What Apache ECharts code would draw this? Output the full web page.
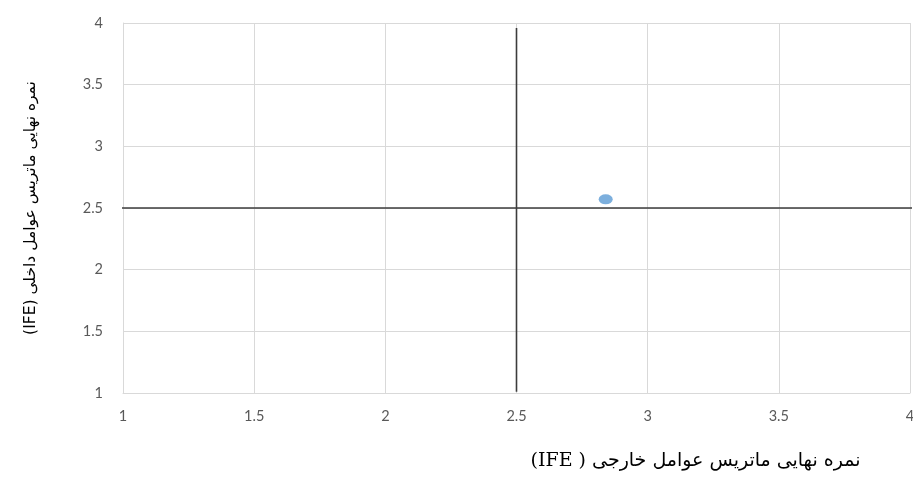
<!DOCTYPE html>
<html>
<head>
<meta charset="utf-8">
<script src="https://cdn.jsdelivr.net/npm/echarts@6/dist/echarts.min.js"></script>
<style>
html,body{margin:0;padding:0;background:#fff;}
#chart{width:913px;height:487px;}
</style>
</head>
<body>
<div id="chart" dir="rtl"></div>
<script>
const xAxisTitle = 'نمره نهایی ماتریس عوامل خارجی ( IFE)';
const yAxisTitle = 'نمره نهایی ماتریس عوامل داخلی (IFE)';
const axisMin = 1;
const axisMax = 4;
const axisStep = 0.5;
const pointData = [[2.84, 2.57]];
const vLine = [[2.5, 1.01], [2.5, 3.96]];
const hLine = [[0.98, 2.5], [4.01, 2.5]];

const chart = echarts.init(document.getElementById('chart'), null, {renderer: 'canvas'});
const gridColor = '#d9d9d9';
const labelStyle = {color: '#595959', fontSize: 14.5, fontFamily: 'Lato, "Open Sans", sans-serif'};
chart.setOption({
  animation: false,
  backgroundColor: '#fff',
  grid: {left: 123, right: 3, top: 23, bottom: 94, containLabel: false, outerBoundsMode: 'none'},
  xAxis: {
    type: 'value', min: axisMin, max: axisMax, interval: axisStep,
    name: xAxisTitle, nameLocation: 'middle', nameGap: 59,
    nameTextStyle: {color: '#000', fontSize: 19, fontFamily: '"DejaVu Serif", "DejaVu Sans", serif', padding: [0, 0, 0, 358]},
    axisLine: {show: true, lineStyle: {color: gridColor}},
    axisTick: {show: false},
    axisLabel: Object.assign({margin: 16}, labelStyle),
    splitLine: {show: true, lineStyle: {color: gridColor, width: 1}}
  },
  yAxis: {
    type: 'value', min: axisMin, max: axisMax, interval: axisStep,
    name: yAxisTitle, nameLocation: 'middle', nameGap: 84, nameRotate: 90,
    nameTextStyle: {color: '#000', fontSize: 15.5, fontFamily: '"DejaVu Sans", sans-serif'},
    axisLine: {show: true, lineStyle: {color: gridColor}},
    axisTick: {show: false},
    axisLabel: Object.assign({margin: 20}, labelStyle),
    splitLine: {show: true, lineStyle: {color: gridColor, width: 1}}
  },
  series: [
    {
      type: 'line', data: vLine, showSymbol: false, clip: false, silent: true,
      lineStyle: {color: '#3d3d3d', width: 1.6}
    },
    {
      type: 'line', data: hLine, showSymbol: false, clip: false, silent: true,
      lineStyle: {color: '#3d3d3d', width: 1.6}
    },
    {
      type: 'scatter', data: pointData, symbol: 'circle', symbolSize: [14, 10],
      itemStyle: {color: '#5B9BD5'}
    }
  ]
});
</script>
</body>
</html>
